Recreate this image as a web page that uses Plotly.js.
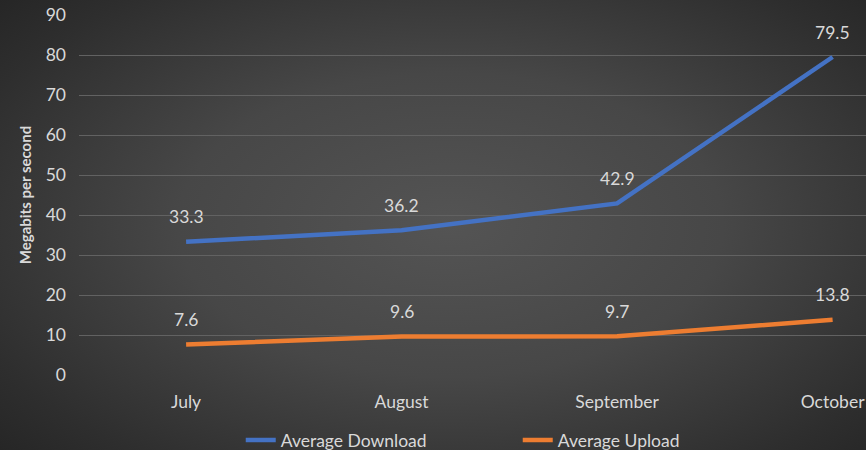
<!DOCTYPE html>
<html><head><meta charset="utf-8">
<script src="https://cdn.plot.ly/plotly-3.0.1.min.js"></script>
<style>
html,body{margin:0;padding:0;}
#chart{width:866px;height:450px;background:radial-gradient(ellipse 70% 75% at 52% 50%, #545454 0%, #474747 45%, #2e2e2e 85%, #262626 100%);}
</style></head><body>
<div id="chart"></div>
<script>
var months = ["July", "August", "September", "October"];
var download = [33.3, 36.2, 42.9, 79.5];
var upload = [7.6, 9.6, 9.7, 13.8];
var seriesNames = ["Average Download", "Average Upload"];
var yTicks = [0,10,20,30,40,50,60,70,80,90];

var traces = [
  {x: months, y: download, name: seriesNames[0], mode: "lines", line: {color: "#4472C4", width: 4.5}},
  {x: months, y: upload, name: seriesNames[1], mode: "lines", line: {color: "#ED7D31", width: 4.5}}
];
var ann = [];
[download, upload].forEach(function(s){
  s.forEach(function(v,i){
    ann.push({x: months[i], y: v, text: v.toFixed(1), showarrow: false, yshift: 25,
      font: {family: "Lato, 'Open Sans', sans-serif", size: 17.5, color: "#d9d9d9"}});
  });
});
var layout = {
  width: 866, height: 450,
  margin: {l: 79, r: 0, t: 15, b: 75},
  paper_bgcolor: "rgba(0,0,0,0)", plot_bgcolor: "rgba(0,0,0,0)",
  font: {family: "Lato, 'Open Sans', sans-serif", color: "#d9d9d9", size: 17.5},
  xaxis: {type: "category", range: [-0.497, 3.155], showgrid: false, zeroline: false, showline: false,
    ticks: "", ticklabelstandoff: 14, automargin: false, tickfont: {size: 17.5, color: "#d9d9d9"}, fixedrange: true},
  yaxis: {range: [0, 90], tickvals: yTicks, showgrid: true, gridcolor: "#626262", gridwidth: 1,
    zeroline: false, showline: false, ticks: "", ticklabelstandoff: 12, automargin: false,
    tickfont: {size: 17.5, color: "#d9d9d9"},
    title: {text: "<b>Megabits per second</b>", font: {size: 15, color: "#d9d9d9"}, standoff: 10}},
  showlegend: true,
  legend: {orientation: "h", x: 0.278, xanchor: "left", xref: "container", yref: "container", y: 0.022, yanchor: "middle",
    entrywidth: 232, entrywidthmode: "pixels",
    font: {size: 17.5, color: "#d9d9d9"}, bgcolor: "rgba(0,0,0,0)"},
  annotations: ann
};
Plotly.newPlot("chart", traces, layout, {displayModeBar: false, staticPlot: true});
</script></body></html>
